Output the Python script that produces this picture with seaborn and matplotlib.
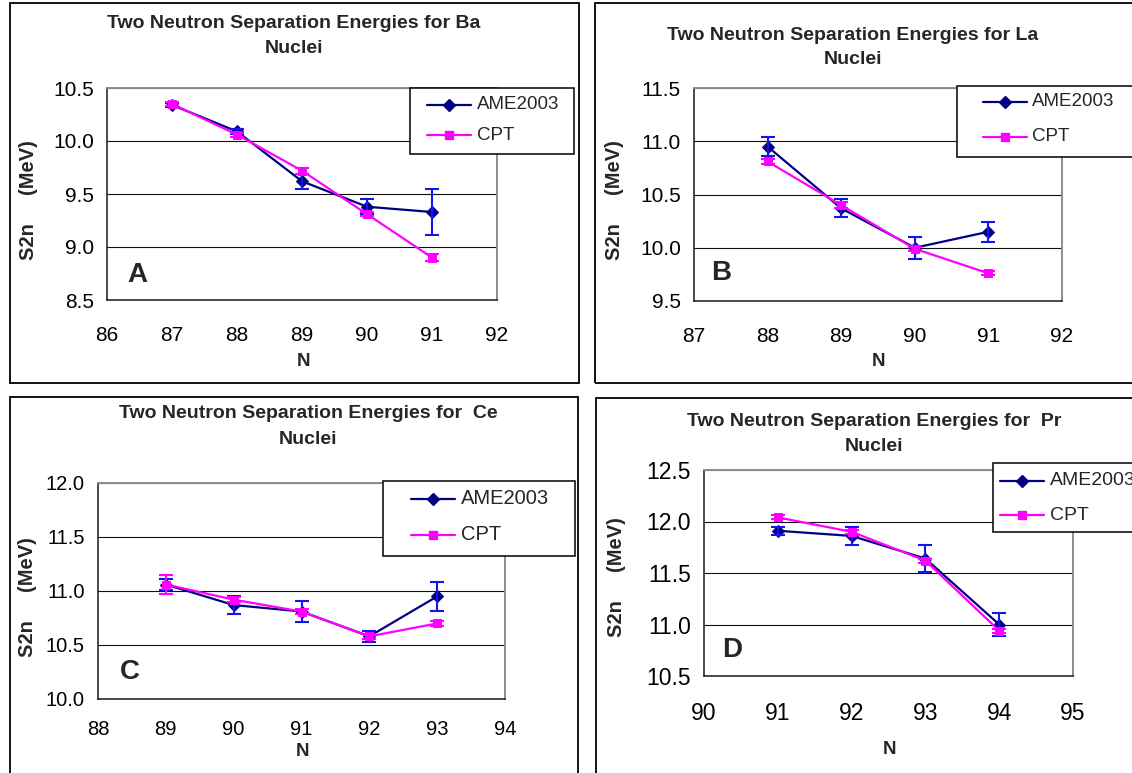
import matplotlib
matplotlib.use("Agg")
import matplotlib.pyplot as plt
import seaborn as sns
import pandas as pd
from matplotlib.patches import Rectangle
from matplotlib.lines import Line2D
from matplotlib.ticker import FormatStrFormatter, MultipleLocator

sns.set_style("white")
plt.rcParams['font.family'] = ['Liberation Sans', 'DejaVu Sans']

# ---- two-neutron separation energies (MeV) ----
ba_n = [87, 88, 89, 90, 91]
ba_ame = [10.34, 10.09, 9.62, 9.38, 9.33]
ba_ame_err = [0.02, 0.02, 0.07, 0.07, 0.22]
ba_cpt = [10.35, 10.06, 9.72, 9.31, 8.90]
ba_cpt_err = [0.02, 0.02, 0.03, 0.02, 0.03]

la_n = [88, 89, 90, 91]
la_ame = [10.95, 10.37, 10.00, 10.15]
la_ame_err = [0.09, 0.085, 0.105, 0.095]
la_cpt = [10.81, 10.40, 9.99, 9.76]
la_cpt_err = [0.02, 0.03, 0.02, 0.02]

ce_n = [89, 90, 91, 92, 93]
ce_ame = [11.06, 10.87, 10.81, 10.58, 10.95]
ce_ame_err = [0.055, 0.08, 0.10, 0.05, 0.135]
ce_cpt = [11.06, 10.92, 10.81, 10.58, 10.70]
ce_cpt_err = [0.085, 0.02, 0.02, 0.02, 0.02]

pr_n = [91, 92, 93, 94]
pr_ame = [11.91, 11.86, 11.64, 11.00]
pr_ame_err = [0.04, 0.09, 0.13, 0.11]
pr_cpt = [12.04, 11.90, 11.62, 10.94]
pr_cpt_err = [0.02, 0.02, 0.02, 0.02]

series_names = ["AME2003", "CPT"]
titles = [
    "Two Neutron Separation Energies for Ba",
    "Two Neutron Separation Energies for La",
    "Two Neutron Separation Energies for  Ce",
    "Two Neutron Separation Energies for  Pr",
]
panel_letters = ["A", "B", "C", "D"]
x_limits = [(86, 92), (87, 92), (88, 94), (90, 95)]
y_limits = [(8.5, 10.5), (9.5, 11.5), (10.0, 12.0), (10.5, 12.5)]

AME_LINE = "#000080"
AME_ERR = "#1414F0"
CPT_COLOR = "#FF00FF"

W, H = 1132, 773
fig = plt.figure(figsize=(W / 100, H / 100), dpi=100)
fig.patch.set_facecolor("white")


def fx(x):
    return x / W


def fy(y):
    return 1 - y / H


def frame(x0, y0, x1, y1, lw=1.2, z=1, fc="none"):
    r = Rectangle((fx(x0), fy(y1)), (x1 - x0) / W, (y1 - y0) / H,
                  transform=fig.transFigure, facecolor=fc, edgecolor="black",
                  lw=lw, zorder=z)
    fig.add_artist(r)


# layout of the four chart objects (pixel boxes)
layout = [
    dict(box=(10, 3, 579, 383), ax=(107, 88, 497, 300), title_x=294, title_y=(23, 48.5),
         ylab=(29, 200), xlab=(304, 361), leg=(410, 88, 574, 154), rows=(104.5, 135),
         hx=(427, 471), tx=477, letter=(137, 274.5), tick_fs=15, leg_fs=13.5, xpad=13.5),
    dict(box=(595, 3, 1145, 383), ax=(694, 88, 1062, 301), title_x=853, title_y=(35, 60),
         ylab=(614, 200), xlab=(878.6, 361.6), leg=(957, 86, 1145, 157), rows=(102, 136.6),
         hx=(983, 1027), tx=1032, letter=(721, 273), tick_fs=15, leg_fs=13.5, xpad=13.5),
    dict(box=(10, 397, 578, 785), ax=(98, 483, 505, 699), title_x=308, title_y=(414, 440),
         ylab=(27.5, 596.7), xlab=(302.6, 751.7), leg=(383, 481, 574.5, 556), rows=(498.7, 535),
         hx=(410.6, 455), tx=460.6, letter=(130, 671.7), tick_fs=14.5, leg_fs=14.5, xpad=10),
    dict(box=(596, 398, 1145, 785), ax=(704, 470, 1073, 676), title_x=874, title_y=(421.7, 446.7),
         ylab=(616, 577.5), xlab=(889, 750), leg=(993, 463, 1145, 532), rows=(480.7, 515),
         hx=(999.6, 1043.5), tx=1049.7, letter=(731.7, 650), tick_fs=16.5, leg_fs=14, xpad=13.5),
]

datasets = [
    (ba_n, ba_ame, ba_ame_err, ba_cpt, ba_cpt_err),
    (la_n, la_ame, la_ame_err, la_cpt, la_cpt_err),
    (ce_n, ce_ame, ce_ame_err, ce_cpt, ce_cpt_err),
    (pr_n, pr_ame, pr_ame_err, pr_cpt, pr_cpt_err),
]

for i, (lay, data) in enumerate(zip(layout, datasets)):
    n, ame, ame_err, cpt, cpt_err = data

    # outer chart border
    frame(*lay["box"], lw=1.3, z=0.5)

    x0, y0, x1, y1 = lay["ax"]
    ax = fig.add_axes([fx(x0), fy(y1), (x1 - x0) / W, (y1 - y0) / H])
    ax.set_facecolor("white")

    df = pd.DataFrame({"N": n + n,
                       "S2n": ame + cpt,
                       "series": [series_names[0]] * len(n) + [series_names[1]] * len(n)})

    sns.lineplot(data=df[df.series == "AME2003"], x="N", y="S2n", ax=ax, color=AME_LINE,
                 marker="D", markersize=6.5, markeredgecolor=AME_LINE, markerfacecolor=AME_LINE,
                 lw=1.6, legend=False, zorder=3)
    ax.errorbar(n, ame, yerr=ame_err, fmt="none", ecolor=AME_ERR, elinewidth=1.5,
                capsize=5, capthick=1.5, zorder=3.5)
    sns.lineplot(data=df[df.series == "CPT"], x="N", y="S2n", ax=ax, color=CPT_COLOR,
                 marker="s", markersize=6, markeredgecolor=CPT_COLOR, markerfacecolor=CPT_COLOR,
                 lw=1.6, legend=False, zorder=4)
    ax.errorbar(n, cpt, yerr=cpt_err, fmt="none", ecolor=CPT_COLOR, elinewidth=1.5,
                capsize=5, capthick=1.5, zorder=4.5)

    ax.set_xlim(*x_limits[i])
    ax.set_ylim(*y_limits[i])
    ax.xaxis.set_major_locator(MultipleLocator(1))
    ax.yaxis.set_major_locator(MultipleLocator(0.5))
    ax.yaxis.set_major_formatter(FormatStrFormatter("%.1f"))
    ax.xaxis.set_major_formatter(FormatStrFormatter("%d"))
    ax.set_xlabel("")
    ax.set_ylabel("")

    ax.grid(axis="y", color="#111111", lw=0.8)
    ax.grid(axis="x", visible=False)
    ax.set_axisbelow(True)

    for side in ("top", "right"):
        ax.spines[side].set_color("#8c8c8c")
        ax.spines[side].set_linewidth(1.4)
    for side in ("left", "bottom"):
        ax.spines[side].set_color("#1a1a1a")
        ax.spines[side].set_linewidth(1.1)

    ax.tick_params(axis="both", direction="out", length=5, width=1, color="#1a1a1a",
                   labelsize=lay["tick_fs"], labelcolor="black")
    ax.tick_params(axis="x", pad=lay["xpad"])
    ax.tick_params(axis="y", pad=4.5)

    # panel letter
    lx, ly = lay["letter"]
    fig.text(fx(lx), fy(ly), panel_letters[i], fontsize=20, fontweight="bold",
             ha="center", va="center")

    # title (two lines)
    fig.text(fx(lay["title_x"]), fy(lay["title_y"][0]), titles[i], fontsize=14,
             fontweight="bold", ha="center", va="center")
    fig.text(fx(lay["title_x"]), fy(lay["title_y"][1]), "Nuclei", fontsize=14,
             fontweight="bold", ha="center", va="center")

    # axis titles
    fig.text(fx(lay["ylab"][0]), fy(lay["ylab"][1]), "S2n     (MeV)", fontsize=14.5,
             fontweight="bold", rotation=90, ha="center", va="center")
    fig.text(fx(lay["xlab"][0]), fy(lay["xlab"][1]), "N", fontsize=13.5,
             fontweight="bold", ha="center", va="center")

    # legend box
    frame(*lay["leg"], lw=1.1, z=10, fc="white")
    styles = [(AME_LINE, "D", 6.5), (CPT_COLOR, "s", 6)]
    for (col, mk, ms), label, ry in zip(styles, series_names, lay["rows"]):
        hx0, hx1 = lay["hx"]
        fig.add_artist(Line2D([fx(hx0), fx(hx1)], [fy(ry), fy(ry)], transform=fig.transFigure,
                              color=col, lw=1.6, zorder=11))
        fig.add_artist(Line2D([fx((hx0 + hx1) / 2)], [fy(ry)], transform=fig.transFigure,
                              color=col, marker=mk, markersize=ms, markeredgecolor=col,
                              markerfacecolor=col, lw=0, zorder=11))
        fig.text(fx(lay["tx"]), fy(ry), label, fontsize=lay["leg_fs"], ha="left",
                 va="center", zorder=12)

fig.savefig("out.png", dpi=100, facecolor="white")
